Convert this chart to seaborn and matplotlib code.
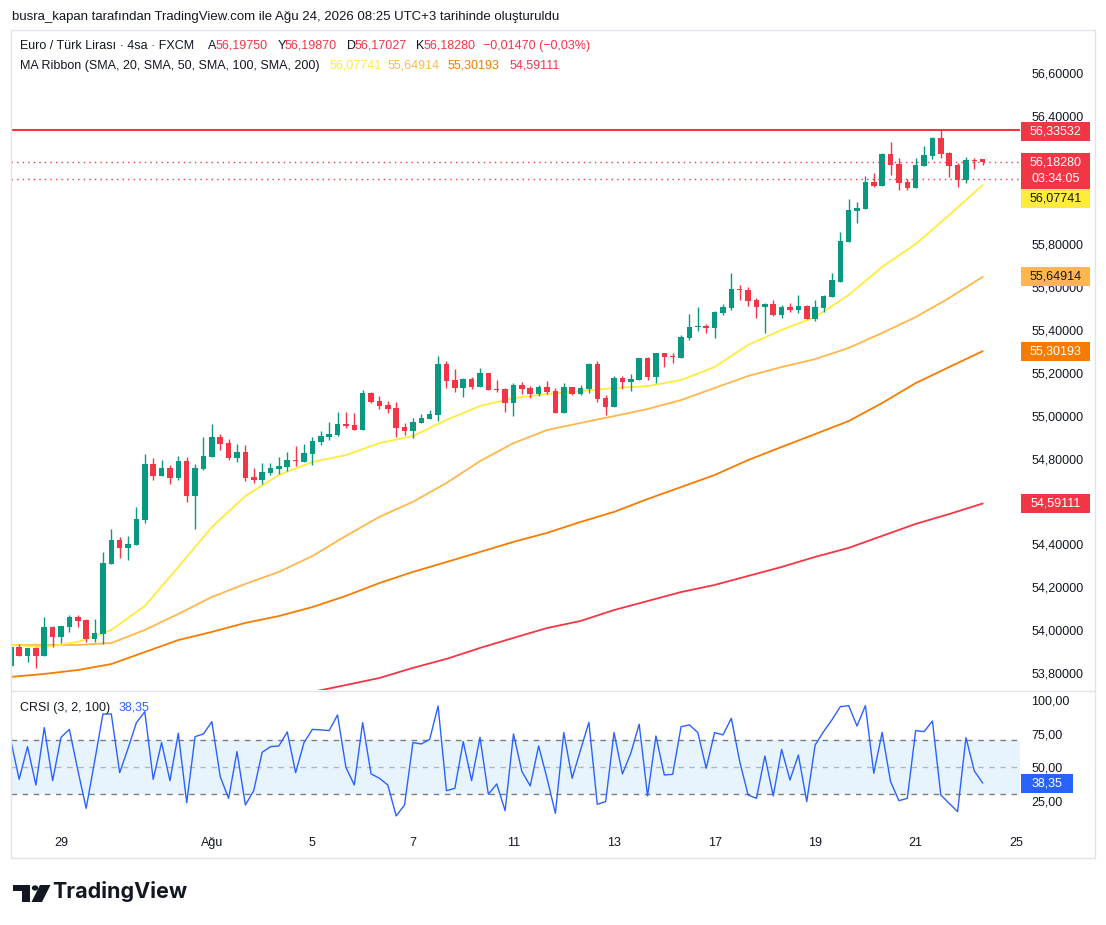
import numpy as np
import pandas as pd
import seaborn as sns
import matplotlib.pyplot as plt
from matplotlib.patches import Rectangle, Circle, Polygon
from matplotlib.lines import Line2D

# --- DATOS (EUR/TRY, 4 saatlik) ---
bar_idx = list(range(-6, 111))
opens = [53.834, 53.922, 53.881, 53.917, 53.881, 54.013, 53.970, 54.016, 54.062, 54.047,
         53.959, 53.984, 54.310, 54.421, 54.385, 54.399, 54.516, 54.776, 54.721, 54.757,
         54.712, 54.789, 54.628, 54.752, 54.810, 54.902, 54.873, 54.804, 54.832, 54.715,
         54.701, 54.734, 54.752, 54.762, 54.794, 54.785, 54.822, 54.878, 54.902, 54.911,
         54.961, 54.958, 54.934, 55.108, 55.070, 55.049, 55.037, 54.947, 54.931, 54.968,
         54.985, 55.004, 55.242, 55.167, 55.132, 55.172, 55.136, 55.200, 55.126, 55.126,
         55.062, 55.144, 55.130, 55.104, 55.135, 55.116, 55.015, 55.135, 55.104, 55.126,
         55.242, 55.083, 55.043, 55.177, 55.159, 55.167, 55.270, 55.183, 55.292, 55.279,
         55.271, 55.363, 55.417, 55.421, 55.412, 55.482, 55.505, 55.592, 55.588, 55.541,
         55.510, 55.522, 55.471, 55.508, 55.494, 55.513, 55.452, 55.505, 55.556, 55.626,
         55.813, 55.957, 55.967, 56.091, 56.073, 56.222, 56.175, 56.091, 56.063, 56.167,
         56.214, 56.297, 56.227, 56.172, 56.101, 56.195, 56.1975]
highs = [53.925, 53.934, 53.917, 53.922, 54.062, 54.019, 54.019, 54.069, 54.069, 54.052,
         54.052, 54.363, 54.472, 54.435, 54.440, 54.575, 54.822, 54.804, 54.794, 54.771,
         54.813, 54.808, 54.776, 54.902, 54.962, 54.915, 54.892, 54.869, 54.864, 54.757,
         54.780, 54.780, 54.808, 54.832, 54.860, 54.869, 54.902, 54.930, 54.971, 55.018,
         55.020, 55.015, 55.121, 55.113, 55.093, 55.070, 55.065, 54.965, 54.989, 55.009,
         55.026, 55.279, 55.256, 55.219, 55.177, 55.180, 55.223, 55.200, 55.167, 55.130,
         55.155, 55.158, 55.139, 55.144, 55.163, 55.130, 55.153, 55.135, 55.144, 55.247,
         55.256, 55.097, 55.186, 55.186, 55.195, 55.270, 55.276, 55.292, 55.292, 55.292,
         55.377, 55.476, 55.508, 55.429, 55.490, 55.524, 55.667, 55.611, 55.601, 55.550,
         55.527, 55.541, 55.518, 55.527, 55.564, 55.518, 55.541, 55.564, 55.667, 55.858,
         56.012, 55.998, 56.119, 56.133, 56.227, 56.278, 56.203, 56.105, 56.203, 56.259,
         56.303, 56.335, 56.231, 56.180, 56.208, 56.203, 56.1987]
lows = [53.830, 53.881, 53.853, 53.825, 53.881, 53.922, 53.941, 53.993, 54.016, 53.946,
        53.946, 53.937, 54.310, 54.338, 54.329, 54.399, 54.502, 54.702, 54.721, 54.684,
        54.702, 54.600, 54.474, 54.748, 54.810, 54.842, 54.794, 54.785, 54.698, 54.688,
        54.682, 54.724, 54.729, 54.743, 54.766, 54.785, 54.771, 54.864, 54.888, 54.906,
        54.942, 54.934, 54.934, 55.059, 55.032, 55.013, 54.901, 54.911, 54.898, 54.968,
        54.985, 54.978, 55.132, 55.113, 55.090, 55.127, 55.136, 55.122, 55.113, 55.020,
        55.001, 55.104, 55.085, 55.094, 55.104, 55.015, 55.015, 55.099, 55.099, 55.108,
        55.066, 55.004, 55.043, 55.127, 55.118, 55.167, 55.167, 55.155, 55.230, 55.248,
        55.271, 55.355, 55.398, 55.389, 55.365, 55.472, 55.495, 55.541, 55.513, 55.458,
        55.388, 55.468, 55.458, 55.486, 55.482, 55.452, 55.443, 55.486, 55.556, 55.626,
        55.813, 55.901, 55.967, 56.068, 56.073, 56.125, 56.055, 56.055, 56.063, 56.167,
        56.200, 56.205, 56.115, 56.069, 56.088, 56.152, 56.17027]
closes = [53.923, 53.881, 53.917, 53.881, 54.013, 53.970, 54.018, 54.062, 54.044, 53.959,
          53.987, 54.314, 54.421, 54.385, 54.402, 54.519, 54.776, 54.721, 54.757, 54.712,
          54.789, 54.628, 54.757, 54.813, 54.902, 54.870, 54.804, 54.832, 54.712, 54.701,
          54.738, 54.757, 54.766, 54.794, 54.789, 54.827, 54.883, 54.906, 54.915, 54.962,
          54.953, 54.934, 55.105, 55.065, 55.048, 55.032, 54.945, 54.929, 54.971, 54.990,
          55.009, 55.242, 55.164, 55.132, 55.172, 55.136, 55.200, 55.122, 55.121, 55.062,
          55.144, 55.126, 55.104, 55.135, 55.113, 55.015, 55.135, 55.104, 55.130, 55.242,
          55.080, 55.043, 55.177, 55.158, 55.172, 55.270, 55.183, 55.292, 55.273, 55.276,
          55.367, 55.415, 55.420, 55.412, 55.485, 55.508, 55.592, 55.589, 55.536, 55.510,
          55.522, 55.471, 55.508, 55.494, 55.513, 55.452, 55.508, 55.559, 55.634, 55.816,
          55.961, 55.970, 56.091, 56.073, 56.222, 56.172, 56.088, 56.063, 56.171, 56.217,
          56.297, 56.223, 56.167, 56.101, 56.194, 56.191, 56.1828]

# MA Ribbon (her 4 mumda bir okunan değerler)
ma_idx = list(range(-6, 111, 4))
sma20 = [53.931, 53.922, 53.945, 54.001, 54.113, 54.295, 54.481, 54.626, 54.724, 54.785,
         54.817, 54.873, 54.906, 54.981, 55.046, 55.083, 55.102, 55.116, 55.130, 55.139,
         55.167, 55.228, 55.331, 55.401, 55.461, 55.564, 55.695, 55.802, 55.937, 56.07741]
sma50 = [53.931, 53.931, 53.931, 53.940, 54.001, 54.076, 54.155, 54.216, 54.272, 54.346,
         54.440, 54.529, 54.599, 54.687, 54.789, 54.873, 54.934, 54.967, 54.999, 55.032,
         55.074, 55.130, 55.186, 55.228, 55.265, 55.317, 55.387, 55.461, 55.550, 55.64914]
sma100 = [53.782, 53.796, 53.814, 53.842, 53.898, 53.954, 53.992, 54.034, 54.066, 54.108,
          54.160, 54.220, 54.272, 54.318, 54.365, 54.412, 54.454, 54.505, 54.552, 54.612,
          54.668, 54.724, 54.794, 54.855, 54.915, 54.976, 55.060, 55.153, 55.228, 55.30193]
sma200 = [np.nan] * 8 + [53.684, 53.712, 53.744, 53.777, 53.824, 53.866, 53.917, 53.964,
                         54.010, 54.043, 54.094, 54.136, 54.178, 54.211, 54.253, 54.295,
                         54.342, 54.384, 54.440, 54.496, 54.542, 54.59111]

crsi = [70.2, 41.1, 65.3, 36.9, 79.4, 40.1, 72.2, 78.1, 48.0, 19.6,
        54.0, 89.5, 89.5, 46.0, 64.0, 83.1, 91.2, 41.1, 68.3, 40.1,
        75.2, 23.8, 72.7, 74.7, 83.8, 43.1, 27.0, 61.6, 22.1, 32.7,
        61.1, 65.3, 65.8, 76.2, 46.0, 68.3, 78.1, 77.7, 77.2, 88.8,
        50.0, 36.9, 83.1, 45.1, 41.9, 36.9, 14.0, 22.1, 68.3, 67.3,
        70.7, 95.4, 32.7, 34.4, 69.0, 40.1, 72.2, 30.0, 37.7, 17.9,
        74.7, 47.0, 36.2, 65.8, 41.9, 15.9, 75.7, 41.9, 62.8, 83.3,
        22.6, 24.6, 75.7, 45.1, 60.4, 81.9, 28.8, 73.2, 44.3, 44.8,
        80.1, 81.4, 75.7, 49.3, 75.7, 74.0, 86.3, 54.2, 29.5, 27.0,
        58.4, 28.8, 63.3, 40.6, 59.1, 24.6, 66.5, 76.4, 85.1, 94.9,
        95.7, 80.6, 95.7, 45.6, 75.9, 39.4, 25.3, 27.0, 77.2, 76.4,
        84.3, 29.5, 23.3, 17.2, 72.0, 47.3, 38.35]

date_idx = [0, 18, 30, 42, 54, 66, 78, 90, 102, 114]
date_labels = ["29", "Ağu", "5", "7", "11", "13", "17", "19", "21", "25"]
# fiyat etiketleri (etiket kutularının altında kalanlar hariç)
price_ticks = [53.8, 54.0, 54.2, 54.4, 54.8, 55.0, 55.2, 55.4, 55.6, 55.8, 56.4, 56.6]
crsi_ticks = [25, 50, 75, 100]
level_line = 56.33532
prev_close = 56.105
countdown = "03:34:05"

# --- ESTILO ---
sns.set_style("white")
plt.rcParams['font.family'] = ['Liberation Sans', 'DejaVu Sans']
DARK = "#131722"
UP, DOWN = "#089981", "#F23645"
C20, C50, C100, C200 = "#FFEB3B", "#FFB74D", "#F57C00", "#F23645"
BLUE = "#2962FF"

W, H = 1106, 925
fig = plt.figure(figsize=(W / 100, H / 100), dpi=100)
fig.patch.set_facecolor("white")


def fx(p):
    return p / W


def fy(p):
    return 1 - p / H


ax = fig.add_axes([fx(11), fy(690), (1020 - 11) / W, (690 - 30) / H])
ax2 = fig.add_axes([fx(11), fy(828), (1020 - 11) / W, (828 - 690) / H])
xlim = (-5.97, 114.45)

# velas
df = pd.DataFrame({"i": bar_idx, "o": opens, "h": highs, "l": lows, "c": closes})
df["col"] = np.where(df["c"] >= df["o"], UP, DOWN)
body_lo = df[["o", "c"]].min(axis=1)
body_h = np.maximum((df["c"] - df["o"]).abs(), 0.004)
ax.vlines(df["i"], df["l"], df["h"], colors=df["col"], lw=1, zorder=3)
ax.bar(df["i"], body_h, bottom=body_lo, width=0.66, color=df["col"], lw=0, zorder=4)

# MA ribbon
ma = pd.DataFrame({"i": ma_idx, "s20": sma20, "s50": sma50, "s100": sma100, "s200": sma200})
for col, c in [("s200", C200), ("s100", C100), ("s50", C50), ("s20", C20)]:
    sns.lineplot(data=ma, x="i", y=col, ax=ax, color=c, lw=1.3, zorder=2)

ax.axhline(level_line, color=DOWN, lw=1.5, zorder=5)
ax.axhline(closes[-1], color=DOWN, lw=1, ls=(0, (1, 3)), zorder=5)
ax.axhline(prev_close, color=DOWN, lw=1, ls=(0, (1, 3)), zorder=5)

ax.set_xlim(*xlim)
ax.set_ylim(53.7209, 56.8007)
ax.set_xticks([])
ax.yaxis.tick_right()
ax.set_yticks(price_ticks)
ax.set_yticklabels([f"{v:.5f}".replace(".", ",") for v in price_ticks])
ax.tick_params(axis="y", length=0, pad=8, labelsize=9, labelcolor=DARK)
ax.set_xlabel("")
ax.set_ylabel("")

# CRSI
ax2.axhspan(30, 70, color="#2196F3", alpha=0.1, lw=0)
ax2.axhline(70, color="#787B86", lw=1, ls=(0, (4, 4)))
ax2.axhline(30, color="#787B86", lw=1, ls=(0, (4, 4)))
ax2.axhline(50, color="#787B86", lw=1, ls=(0, (4, 4)), alpha=0.5)
sns.lineplot(x=bar_idx, y=crsi, ax=ax2, color=BLUE, lw=1)
ax2.set_xlim(*xlim)
ax2.set_ylim(5.04, 107.26)
ax2.yaxis.tick_right()
ax2.set_yticks(crsi_ticks)
ax2.set_yticklabels([f"{v:.2f}".replace(".", ",") for v in crsi_ticks])
ax2.tick_params(axis="y", length=0, pad=8, labelsize=9, labelcolor=DARK)
ax2.set_xticks(date_idx)
ax2.set_xticklabels(date_labels)
ax2.tick_params(axis="x", length=0, pad=6.5, labelsize=9, labelcolor=DARK)
ax2.set_xlabel("")
ax2.set_ylabel("")

for a in (ax, ax2):
    for s in a.spines.values():
        s.set_visible(False)

# marco
fig.patches.append(Rectangle((fx(11), fy(858)), (1095 - 11) / W, (858 - 30) / H,
                             transform=fig.transFigure, fill=False, ec="#E0E3EB", lw=1))
fig.lines.append(Line2D([fx(11), fx(1095)], [fy(690.5), fy(690.5)],
                        transform=fig.transFigure, color="#E0E3EB", lw=1))


def ypx(a, v):
    return H - a.transData.transform((0, v))[1]


def tag(yc, lines, bg, fg, w=69):
    bh = 19 + 17 * (len(lines) - 1)
    top = yc - 9.5
    fig.patches.append(Rectangle((fx(1021), fy(top + bh)), w / W, bh / H, transform=fig.transFigure,
                                 fc=bg, ec="none", zorder=5))
    for k, s in enumerate(lines):
        fig.text(fx(1021 + w / 2), fy(yc + 17 * k), s, color=fg, fontsize=9,
                 ha="center", va="center", zorder=6)
    return top + bh


def fmt(v):
    return f"{v:.5f}".replace(".", ",")


tag(ypx(ax, level_line) + 1.5, [fmt(level_line)], DOWN, "white")
bottom = tag(ypx(ax, closes[-1]), [fmt(closes[-1]), countdown], DOWN, "white")
tag(max(ypx(ax, sma20[-1]), bottom + 9.5), [fmt(sma20[-1])], C20, DARK)
tag(ypx(ax, sma50[-1]), [fmt(sma50[-1])], C50, DARK)
tag(ypx(ax, sma100[-1]), [fmt(sma100[-1])], C100, "white")
tag(ypx(ax, sma200[-1]), [fmt(sma200[-1])], C200, "white")
tag(ypx(ax2, crsi[-1]), [f"{crsi[-1]:.2f}".replace(".", ",")], BLUE, "white", w=52)

# textos de cabecera
fig.text(fx(12), fy(17), "busra_kapan tarafından TradingView.com ile Ağu 24, 2026 08:25 UTC+3 tarihinde oluşturuldu",
         fontsize=9.5, color=DARK, va="center")


def seg(y, parts):
    for x, s, c in parts:
        fig.text(fx(x), fy(y), s, color=c, fontsize=9, va="center")


seg(46, [(20, "Euro / Türk Lirası · 4sa · FXCM", DARK),
         (208, "A", DARK), (216, "56,19750", DOWN),
         (278, "Y", DARK), (285, "56,19870", DOWN),
         (347, "D", DARK), (355, "56,17027", DOWN),
         (416, "K", DARK), (424, "56,18280", DOWN),
         (483, "−0,01470 (−0,03%)", DOWN)])
seg(66, [(20, "MA Ribbon (SMA, 20, SMA, 50, SMA, 100, SMA, 200)", DARK),
         (330, fmt(sma20[-1]), C20), (388, fmt(sma50[-1]), C50),
         (448, fmt(sma100[-1]), C100), (510, fmt(sma200[-1]), C200)])
seg(708, [(20, "CRSI (3, 2, 100)", DARK), (119, f"{crsi[-1]:.2f}".replace(".", ","), BLUE)])

# logo TradingView
logo = [Polygon([(fx(13), fy(885)), (fx(29.5), fy(885)), (fx(29.5), fy(902)), (fx(21.5), fy(902)),
                 (fx(21.5), fy(891)), (fx(13), fy(891))], closed=True),
        Circle((fx(35), fy(888)), 3.2 / W),
        Polygon([(fx(40), fy(885)), (fx(50.5), fy(885)), (fx(42), fy(902)), (fx(31.5), fy(902))], closed=True)]
for p in logo:
    p.set_transform(fig.transFigure)
    p.set_facecolor(DARK)
    p.set_edgecolor("none")
    fig.patches.append(p)
fig.text(fx(52), fy(892), "TradingView", fontsize=15.5, fontweight="bold", color=DARK,
         va="center", family=["Inter", "DejaVu Sans"])

fig.savefig("out.png", dpi=100)
